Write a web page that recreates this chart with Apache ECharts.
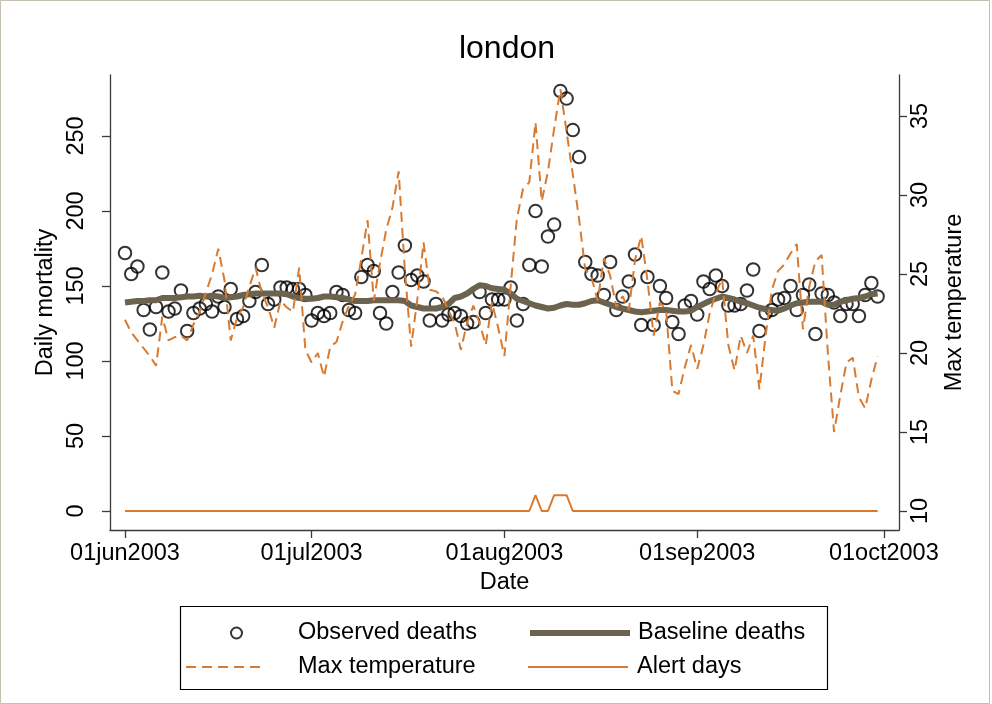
<!DOCTYPE html>
<html><head><meta charset="utf-8">
<script src="https://cdn.jsdelivr.net/npm/echarts@6/dist/echarts.min.js"></script>
<style>html,body{margin:0;padding:0;background:#fff}#chart{width:992px;height:704px}</style>
</head><body><div id="chart"></div>
<script>
// ---- data (day index 0 = 01jun2003) ----
const deaths = [
  172,158,163,134,121,136,159,133,135,147,
  120,132,135,138,133,143,136,148,128,130,
  140,146,164,138,141,149,149,148,148,144,
  127,132,130,132,146,144,134,132,156,164,
  160,132,125,146,159,177,154,157,153,127,
  138,127,131,132,130,125,126,146,132,141,
  141,141,149,127,138,164,200,163,183,191,
  280,275,254,236,166,158,157,144,166,134,
  143,153,171,124,156,124,150,142,126,118,
  137,140,131,153,148,157,150,137,137,138,
  147,161,120,132,134,141,142,150,134,144,
  151,118,145,144,139,130,138,138,130,144,
  152,143
];
const baseline = [
  139,139.5,140,140,140.5,140.5,142,142,142,142.5,
  143,143,143.5,143,143.5,143,142,142.5,143,144,
  144.5,145,145,145,145,145,144.5,143,142,141.5,
  141.5,142,143,143,142.5,142,141,140,140,140,
  140.5,140.5,140.5,140.5,140.5,140,137,136,135,135,
  135,136,138,142,143,145,148,150.5,150,148.5,
  148,147.5,145,141.5,140,138.5,137,136,135,135.5,
  137,138,137.5,137.5,138.5,140,140.5,139,137.5,136,
  135,134,133,132.5,133,133.5,134,134,133.5,133,
  133,133.5,136,138,140,141.5,143,142,141,139.5,
  138.5,137,135.5,134.5,134,133.5,135,137,138.5,139,
  139.5,139.5,139.5,137.5,137.5,139.5,140.5,141.5,142,143,
  144.5,145
];
const maxTemp = [
  22.1,21.3,20.8,20.3,19.8,19.2,22.3,20.8,21.0,21.1,
  20.8,21.8,22.6,23.8,25.0,26.6,24.6,20.8,22.2,22.9,
  24.2,25.4,23.8,22.9,21.6,23.3,22.9,22.6,25.4,20.2,
  19.4,20.0,18.5,20.4,20.7,22.0,23.0,23.7,26.0,28.4,
  23.3,25.7,27.8,29.2,31.5,25.2,20.4,23.4,27.0,24.0,
  23.9,23.6,22.7,21.9,20.2,21.9,23.0,21.9,20.5,23.2,
  21.6,19.8,24.2,28.5,30.4,30.8,34.6,29.6,31.5,34.2,
  36.7,34.0,31.3,28.5,25.3,24.8,23.3,26.0,24.9,22.9,
  23.6,22.7,25.9,27.4,24.6,21.1,23.2,22.7,17.6,17.4,
  19.1,20.5,19.0,20.5,22.5,23.8,24.7,20.5,18.9,21.1,
  20.0,21.1,17.7,21.1,24.0,25.2,25.6,26.3,26.9,21.5,
  24.2,25.8,26.2,20.0,15.0,17.3,19.4,19.7,17.2,16.5,
  18.3,19.8
];
// alert days drawn on the temperature axis (10 = no alert, 11 = alert)
const alertLevel = [
  10,10,10,10,10,10,10,10,10,10,
  10,10,10,10,10,10,10,10,10,10,
  10,10,10,10,10,10,10,10,10,10,
  10,10,10,10,10,10,10,10,10,10,
  10,10,10,10,10,10,10,10,10,10,
  10,10,10,10,10,10,10,10,10,10,
  10,10,10,10,10,10,11,10,10,11,
  11,11,10,10,10,10,10,10,10,10,
  10,10,10,10,10,10,10,10,10,10,
  10,10,10,10,10,10,10,10,10,10,
  10,10,10,10,10,10,10,10,10,10,
  10,10,10,10,10,10,10,10,10,10,
  10,10
];
const tickDays = [0, 30, 61, 92, 122];
const tickLabels = ['01jun2003', '01jul2003', '01aug2003', '01sep2003', '01oct2003'];
const leftTicks = [0, 50, 100, 150, 200, 250];
const rightTicks = [10, 15, 20, 25, 30, 35];

// ---- styling / layout ----
const FONT = 'Liberation Sans';
const FS = 23.5;
const ORANGE = '#d87a30';
const BASE = '#6b634e';
const AX = '#3a3a3a';
const txt = { fontFamily: FONT, fontSize: FS, color: '#000' };
const hidden = { color: 'rgba(0,0,0,0)', borderWidth: 0, opacity: 0 };

const chart = echarts.init(document.getElementById('chart'), null, { renderer: 'canvas' });
const pair = arr => arr.map((v, i) => [i, v]);

const axisCommon = {
  axisLine: { show: true, onZero: false, lineStyle: { color: AX, width: 1.3 } },
  splitLine: { show: false }
};

const option = {
  animation: false,
  backgroundColor: '#fff',
  title: {
    text: 'london', left: 502, top: 28, textAlign: 'center',
    textStyle: { fontFamily: FONT, fontSize: 32, fontWeight: 'normal', color: '#000' }
  },
  grid: { left: 110, right: 93, top: 75, bottom: 174 },
  xAxis: Object.assign({
    type: 'value', min: -2.41, max: 124.44,
    name: 'Date', nameLocation: 'middle', nameGap: 35, nameTextStyle: txt,
    axisTick: { show: true, length: 8, customValues: tickDays, lineStyle: { color: AX, width: 1.3 } },
    axisLabel: Object.assign({ customValues: tickDays, margin: 12,
      formatter: v => tickLabels[tickDays.indexOf(Math.round(v))] }, txt)
  }, axisCommon),
  yAxis: [
    Object.assign({
      type: 'value', position: 'left', min: -12.67, max: 290.67,
      name: 'Daily mortality', nameLocation: 'middle', nameGap: 42, nameRotate: 90, nameTextStyle: txt,
      axisTick: { show: true, length: 8, customValues: leftTicks, lineStyle: { color: AX, width: 1.3 } },
      axisLabel: Object.assign({ customValues: leftTicks, rotate: 90, margin: 21 }, txt)
    }, axisCommon),
    Object.assign({
      type: 'value', position: 'right', min: 8.797, max: 37.595,
      name: 'Max temperature', nameLocation: 'middle', nameGap: 44, nameRotate: 90, nameTextStyle: txt,
      axisTick: { show: true, length: 8, customValues: rightTicks, lineStyle: { color: AX, width: 1.3 } },
      axisLabel: Object.assign({ customValues: rightTicks, rotate: 90, margin: 10 }, txt)
    }, axisCommon)
  ],
  legend: [
    { data: ['Observed deaths'], left: 230, top: 621, padding: 0, itemWidth: 11, itemHeight: 11,
      selectedMode: false, itemStyle: { color: '#fff', borderColor: '#000', borderWidth: 2 },
      textStyle: Object.assign({ padding: [0, 0, 0, 51], lineHeight: 24 }, txt) },
    { data: ['Max temperature'], left: 185, top: 655, padding: 0, itemWidth: 80, itemHeight: 14,
      selectedMode: false, itemStyle: hidden,
      lineStyle: { color: ORANGE, width: 2, type: [10, 6] },
      textStyle: Object.assign({ padding: [0, 0, 0, 27], lineHeight: 24 }, txt) },
    { data: ['Baseline deaths'], left: 527, top: 621, padding: 0, itemWidth: 100, itemHeight: 14,
      selectedMode: false, itemStyle: hidden,
      lineStyle: { color: BASE, width: 6, cap: 'butt' },
      textStyle: Object.assign({ padding: [0, 0, 0, 3], lineHeight: 24 }, txt) },
    { data: ['Alert days'], left: 527, top: 655, padding: 0, itemWidth: 100, itemHeight: 14,
      selectedMode: false, itemStyle: hidden,
      lineStyle: { color: ORANGE, width: 2 },
      textStyle: Object.assign({ padding: [0, 0, 0, 4], lineHeight: 24 }, txt) }
  ],
  graphic: [
    { type: 'rect', shape: { x: 180.5, y: 606.5, width: 647, height: 83 },
      style: { fill: 'none', stroke: '#000', lineWidth: 1.2 }, silent: true },
    { type: 'rect', shape: { x: 0.5, y: 0.5, width: 989, height: 703 },
      style: { fill: 'none', stroke: '#c4beb2', lineWidth: 1 }, silent: true }
  ],
  series: [
    { name: 'Observed deaths', type: 'scatter', data: pair(deaths), symbol: 'circle', symbolSize: 12.5,
      itemStyle: { color: 'rgba(255,255,255,0)', borderColor: '#000', borderWidth: 2 }, z: 2 },
    { name: 'Baseline deaths', type: 'line', data: pair(baseline), symbol: 'none', smooth: false,
      lineStyle: { color: BASE, width: 6 }, itemStyle: { color: BASE }, z: 3 },
    { name: 'Max temperature', type: 'line', yAxisIndex: 1, data: pair(maxTemp), symbol: 'none',
      lineStyle: { color: ORANGE, width: 2, type: [10, 6] }, itemStyle: { color: ORANGE }, z: 4 },
    { name: 'Alert days', type: 'line', yAxisIndex: 1, data: pair(alertLevel), symbol: 'none',
      lineStyle: { color: ORANGE, width: 2 }, itemStyle: { color: ORANGE }, z: 5 }
  ]
};
chart.setOption(option);
</script>
</body></html>
